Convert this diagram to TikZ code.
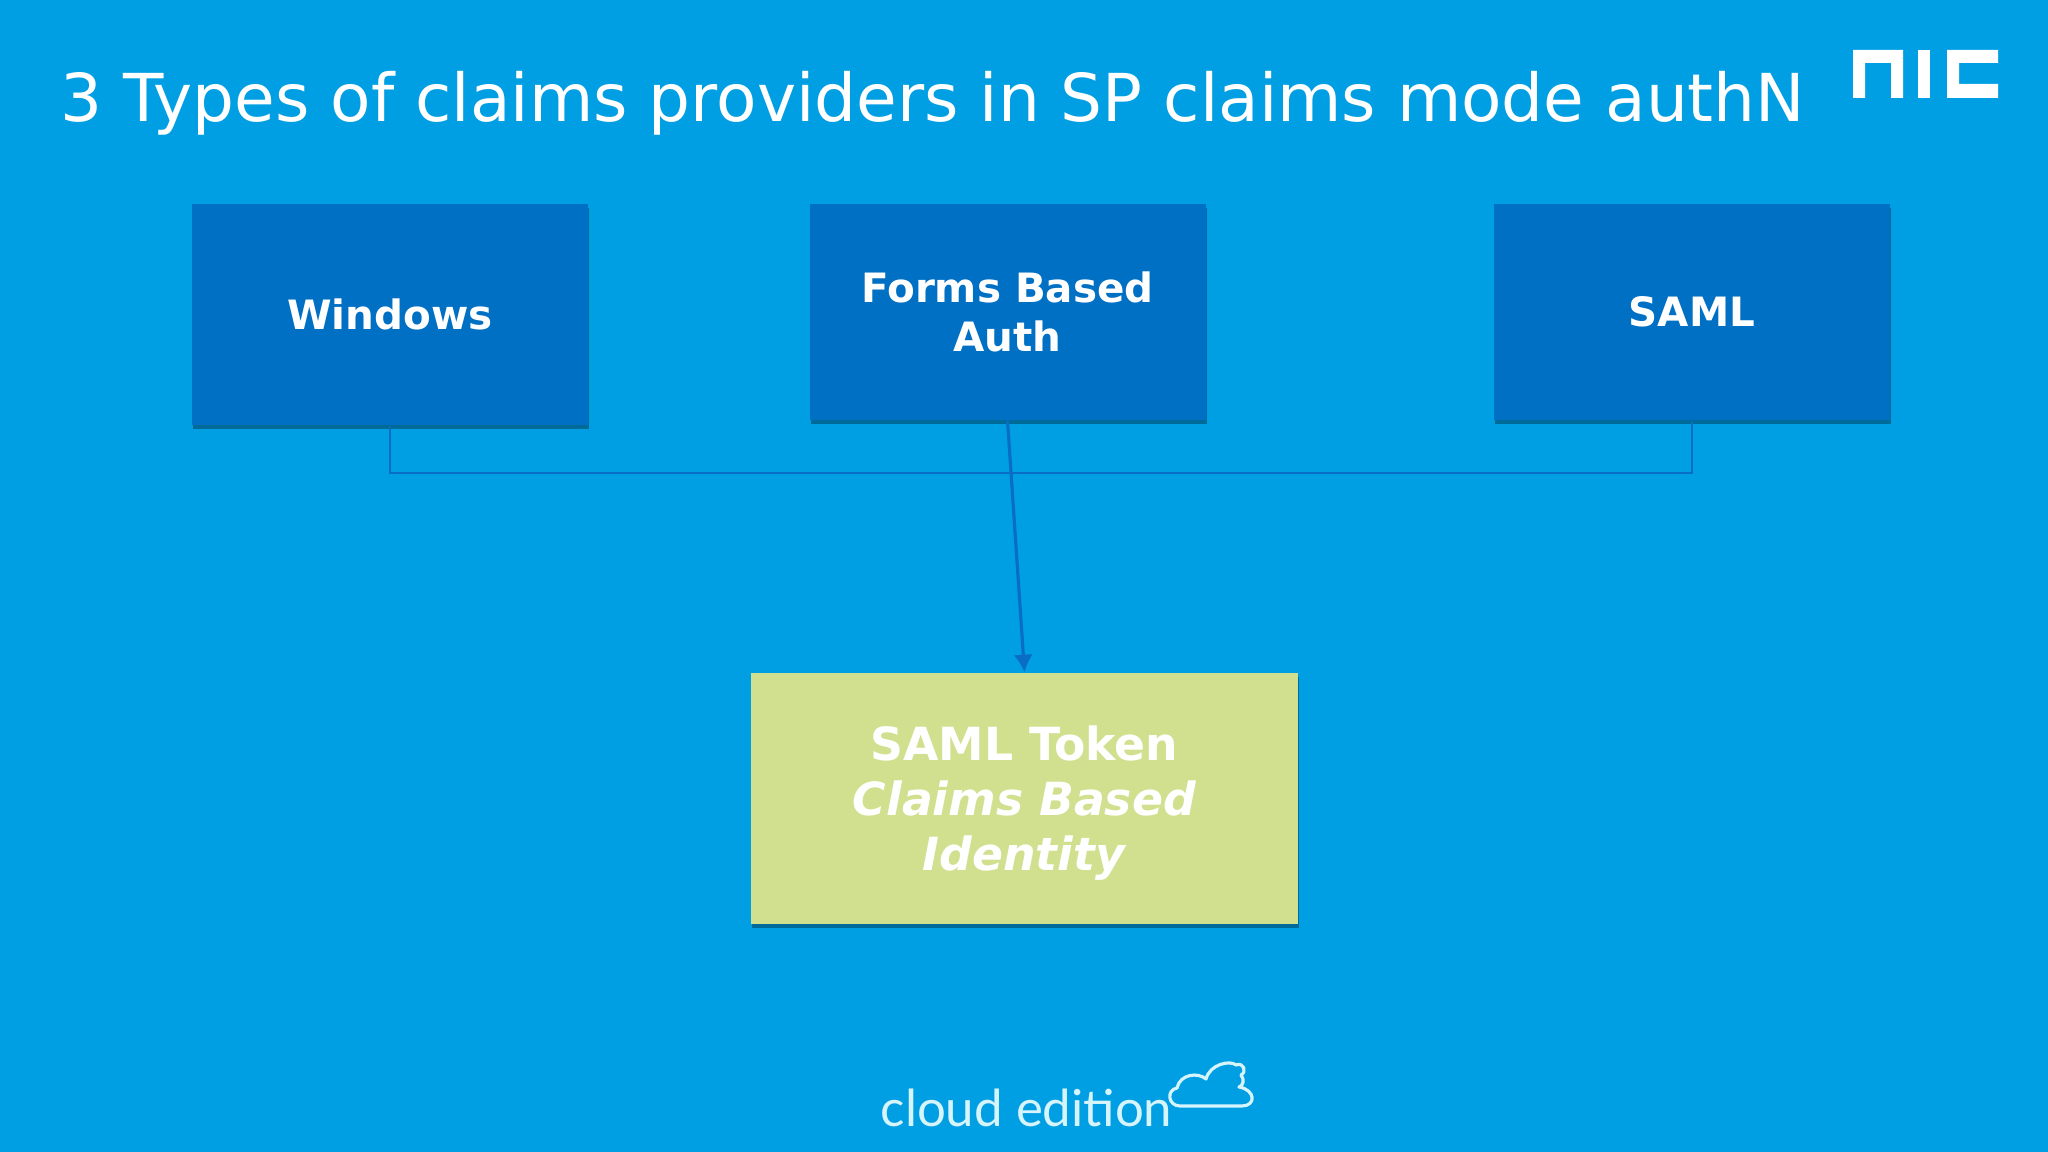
\documentclass[tikz,border=0pt]{standalone}
\usepackage{fontspec}
\setmainfont{DejaVu Sans}
\newfontfamily\cloudfont{Lato}
\usetikzlibrary{arrows.meta,shadows}
\definecolor{slidebg}{HTML}{009FE3}
\definecolor{boxblue}{HTML}{0070C5}
\definecolor{tokengreen}{HTML}{D1E08F}
\definecolor{linkblue}{HTML}{0A6DC4}
\definecolor{cloudtxt}{HTML}{D5F4FB}
\begin{document}
\begin{tikzpicture}[
     provider/.style={rectangle,fill=boxblue,text=white,font=\fontsize{11.5}{13.7}\selectfont\bfseries,
       align=center,minimum width=3.96cm,minimum height=2.16cm,inner sep=0pt,
       drop shadow={shadow xshift=.4pt,shadow yshift=-1.2pt,fill=black,opacity=.33}},
     link/.style={draw=linkblue,line width=.7pt}]

      \useasboundingbox (0,0) rectangle (20.48,11.52);
      \fill[slidebg] (0,0) rectangle (20.48,11.52);

      \node[text=white,anchor=base west,inner sep=0pt,font=\fontsize{18.8}{22}\selectfont] (title) at (0.6,10.3)
        {3 Types of claims providers in SP claims mode authN};

      \node[provider,minimum height=2.21cm] (windows) at (3.90,8.375) {Windows};
      \node[provider] (forms) at (10.075,8.40) {Forms Based\\Auth};
      \node[provider] (saml) at (16.92,8.40) {SAML};
      \node[provider,fill=tokengreen,minimum width=5.47cm,minimum height=2.51cm,
        font=\fontsize{13}{15.6}\selectfont\bfseries] (token) at (10.245,3.535)
        {\rule{0pt}{12.4pt}SAML Token\\\textit{Claims Based}\\\textit{Identity}};

      \coordinate (bus) at (10.245,6.79);
      \path[link] (windows.south) |- (bus) -| (saml.south);
      \path[link,line width=.9pt,-{Latex[length=5pt,width=5.5pt]}] (forms.south) -- (token.north);

      % nic logo
      \fill[white] (18.53,11.02) -- (19.03,11.02) -- (19.03,10.54) -- (18.91,10.54) -- (18.91,10.89)
        -- (18.65,10.89) -- (18.65,10.54) -- (18.53,10.54) -- cycle;
      \fill[white] (19.18,11.02) rectangle (19.30,10.54);
      \fill[white] (19.47,11.02) -- (19.98,11.02) -- (19.98,10.89) -- (19.59,10.89) -- (19.59,10.68)
        -- (19.98,10.68) -- (19.98,10.54) -- (19.47,10.54) -- cycle;

      % cloud edition
      \node[text=cloudtxt,anchor=base west,inner sep=0pt,font=\cloudfont\fontsize{14.5}{16}\selectfont] (edition) at (8.80,0.25) {cloud edition};
      \draw[cloudtxt,line width=.9pt,line join=round]
        (11.80,0.46) .. controls (11.68,0.46) and (11.66,0.62) .. (11.77,0.64)
        .. controls (11.80,0.78) and (11.98,0.80) .. (12.06,0.73)
        .. controls (12.10,0.88) and (12.30,0.92) .. (12.36,0.87)
        .. controls (12.44,0.90) and (12.47,0.80) .. (12.41,0.77)
        .. controls (12.45,0.72) and (12.43,0.66) .. (12.39,0.65)
        .. controls (12.56,0.62) and (12.56,0.46) .. (12.42,0.46) -- cycle;
    \end{tikzpicture}
\end{document}
